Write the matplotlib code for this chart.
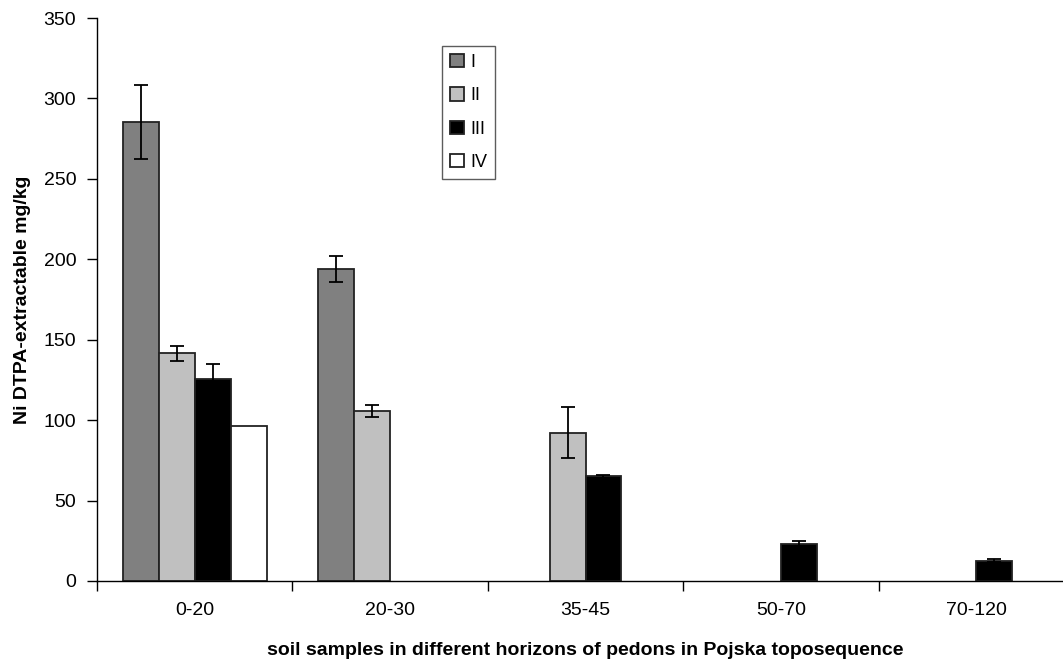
import numpy as np
import matplotlib
matplotlib.use('Agg')
import matplotlib.pyplot as plt

plt.rcParams['font.family'] = ['Liberation Sans', 'DejaVu Sans']

# горизонты почвы
horizons = ['0-20', '20-30', '35-45', '50-70', '70-120']
series = ['I', 'II', 'III', 'IV']

# значения (0 = нет данных) и ошибки
vals_I = [285.5, 194.0, 0, 0, 0]
vals_II = [141.6, 105.8, 92.3, 0, 0]
vals_III = [125.4, 0, 65.0, 23.0, 12.6]
vals_IV = [96.4, 0, 0, 0, 0]

err_I = [23.0, 8.3, 0, 0, 0]
err_II = [4.7, 3.7, 16.0, 0, 0]
err_III = [9.3, 0, 0.7, 1.7, 1.0]
err_IV = [0, 0, 0, 0, 0]

colors = ['#808080', '#c0c0c0', '#000000', '#ffffff']

fig = plt.figure(figsize=(10.63, 6.6), dpi=100)
ax = fig.add_axes([0.0913, 0.1197, 0.919, 0.853])

x = np.arange(len(horizons))
w = 0.184
all_vals = [vals_I, vals_II, vals_III, vals_IV]
all_errs = [err_I, err_II, err_III, err_IV]
for i, (v, e) in enumerate(zip(all_vals, all_errs)):
    pos = x + (i - 1.5) * w
    v = np.array(v, dtype=float)
    e = np.array(e, dtype=float)
    mask = v > 0
    ax.bar(pos[mask], v[mask], width=w, color=colors[i], edgecolor='#222222',
           linewidth=1.3, label=series[i], zorder=2)
    em = e > 0
    ax.errorbar(pos[em], v[em], yerr=e[em], fmt='none', ecolor='black',
                elinewidth=1.3, capsize=5, capthick=1.3, zorder=3)

ax.set_xlim(-0.5, len(horizons) - 0.5)
ax.set_ylim(0, 350)
ax.set_yticks(np.arange(0, 351, 50))
ax.set_xticks(x)
ax.set_xticklabels(horizons)
ax.set_xticks(np.arange(-0.5, len(horizons), 1), minor=True)
ax.tick_params(axis='x', which='major', length=0, pad=15, labelsize=14)
ax.tick_params(axis='x', which='minor', length=7, width=1)
ax.tick_params(axis='y', length=7, width=1, labelsize=14, pad=8)

for s in ['top', 'right']:
    ax.spines[s].set_visible(False)
ax.spines['left'].set_linewidth(1)
ax.spines['bottom'].set_linewidth(1)

ax.set_ylabel('Ni DTPA-extractable mg/kg', fontsize=14, fontweight='bold', labelpad=9)
ax.set_xlabel('soil samples in different horizons of pedons in Pojska toposequence',
              fontsize=14, fontweight='bold', labelpad=17)

leg = fig.legend(loc='upper left', bbox_to_anchor=(442 / 1063, 1 - 46 / 660),
                 fontsize=13, frameon=True, fancybox=False, edgecolor='#333333',
                 handlelength=0.75, handleheight=0.75, handletextpad=0.35,
                 labelspacing=0.9, borderpad=0.45, borderaxespad=0)
leg.get_frame().set_linewidth(1)

fig.savefig('out.png', dpi=100)
